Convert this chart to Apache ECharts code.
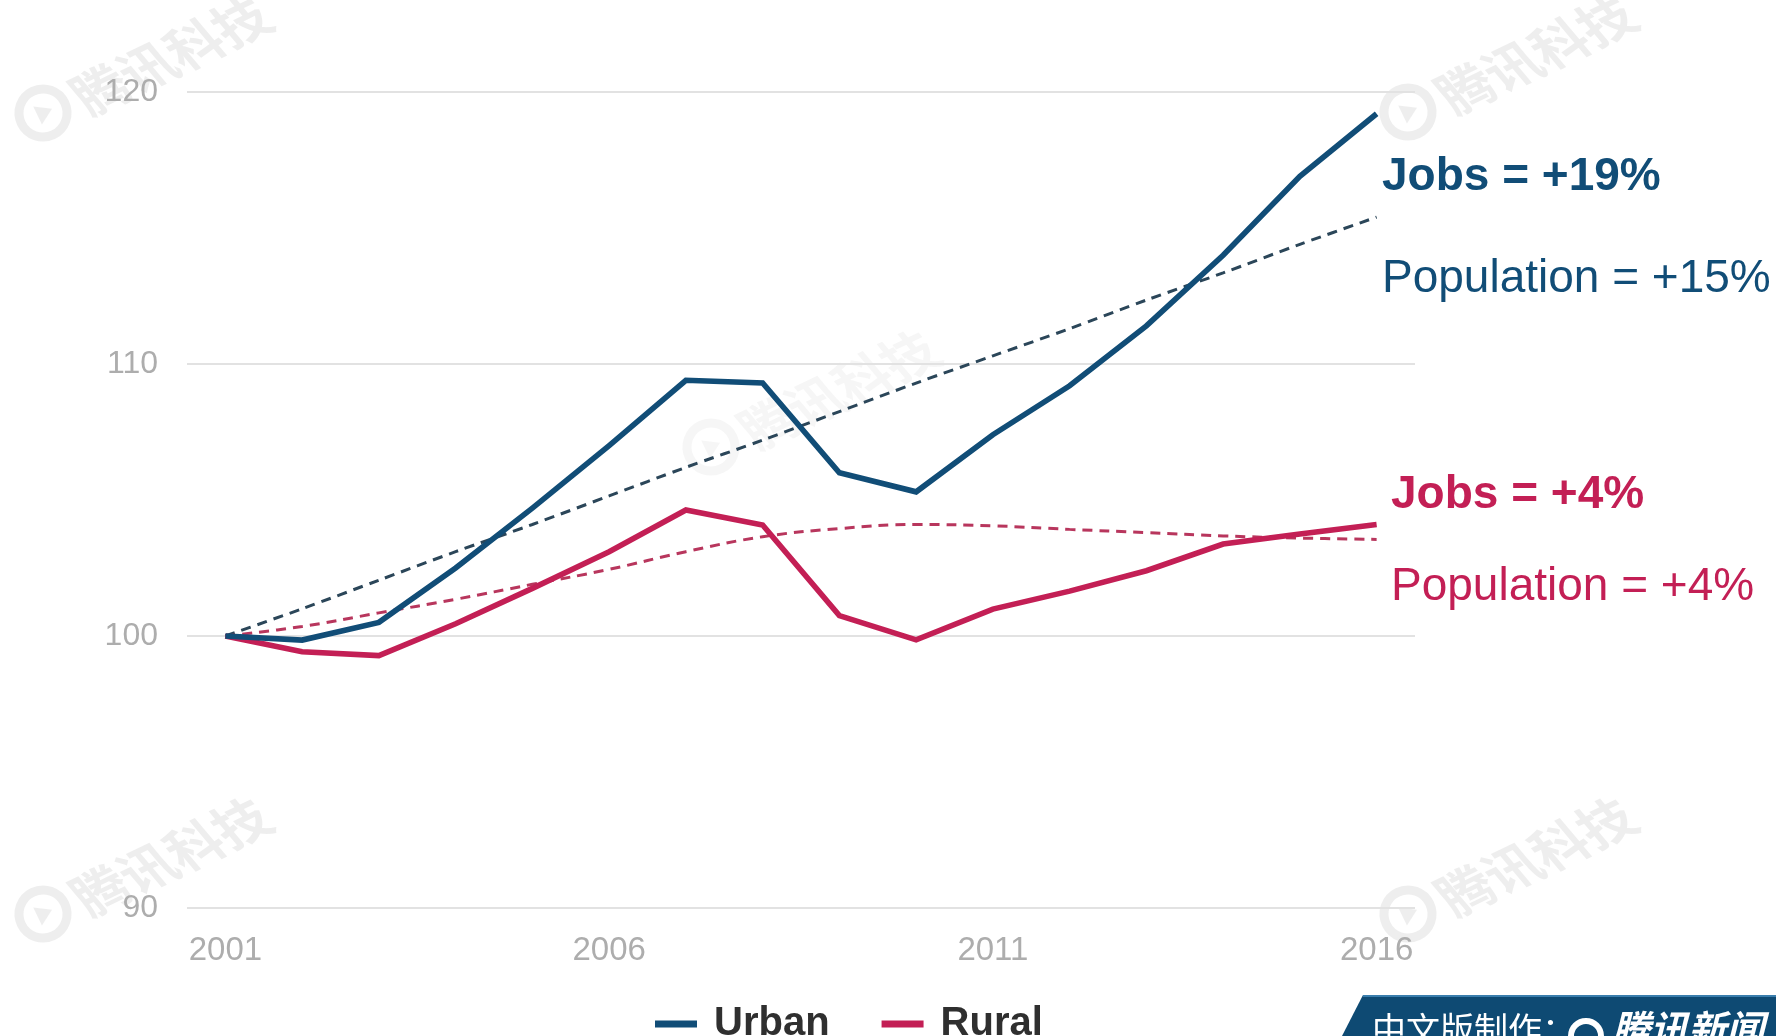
<!DOCTYPE html>
<html>
<head>
<meta charset="utf-8">
<script src="https://cdn.jsdelivr.net/npm/echarts@6/dist/echarts.min.js"></script>
<style>
  html, body { margin: 0; padding: 0; background: #ffffff; }
  #chart { width: 1776px; height: 1036px; }
</style>
</head>
<body>
<div id="chart"></div>
<script>
// ---- data ----
const years = ['2001','2002','2003','2004','2005','2006','2007','2008','2009','2010','2011','2012','2013','2014','2015','2016'];
const urbanJobs = [100, 99.85, 100.5, 102.5, 104.7, 107.0, 109.4, 109.3, 106.0, 105.3, 107.4, 109.2, 111.4, 114.0, 116.9, 119.2];
const urbanPopulation = [100, 101.0, 102.05, 103.1, 104.1, 105.15, 106.2, 107.2, 108.25, 109.3, 110.3, 111.3, 112.35, 113.35, 114.4, 115.4];
const ruralJobs = [100, 99.42, 99.28, 100.45, 101.75, 103.1, 104.63, 104.08, 100.75, 99.86, 100.99, 101.65, 102.4, 103.38, 103.75, 104.1];
const ruralPopulation = [100, 100.35, 100.85, 101.35, 101.9, 102.45, 103.1, 103.65, 103.95, 104.1, 104.05, 103.92, 103.8, 103.68, 103.6, 103.55];
const yTicks = { min: 90, max: 120, interval: 10 };
const legendNames = ['Urban', 'Rural'];
const annotations = {
  urbanJobs: 'Jobs = +19%',
  urbanPop: 'Population = +15%',
  ruralJobs: 'Jobs = +4%',
  ruralPop: 'Population = +4%'
};
const watermarkText = '腾讯科技';
const bannerText = '中文版制作：';
const bannerBrand = '腾讯新闻';

// ---- styles ----
const BLUE = '#114d77';
const RED = '#c31f55';
const BLUE_DASH = '#2b4659';
const RED_DASH = '#b8365d';
const FONT = '"Liberation Sans", Arial, Helvetica, sans-serif';

const chart = echarts.init(document.getElementById('chart'), null, { renderer: 'canvas' });

function watermark(x, y, alpha) {
  const col = 'rgba(150,150,150,' + alpha + ')';
  return {
    type: 'group',
    x: x, y: y,
    rotation: 0.45,
    z: 100,
    silent: true,
    children: [
      { type: 'circle', shape: { cx: 0, cy: 0, r: 24 }, style: { fill: 'none', stroke: col, lineWidth: 9 } },
      { type: 'polygon', shape: { points: [[-6, -10], [10, 0], [-6, 10]] }, style: { fill: col } },
      { type: 'text', x: 36, y: 4, style: { text: watermarkText, fill: col, font: 'bold 52px "Noto Sans CJK SC", sans-serif', textAlign: 'left', textVerticalAlign: 'middle' }, skewX: 0.25 }
    ]
  };
}

const option = {
  animation: false,
  backgroundColor: '#ffffff',
  grid: { left: 187, right: 361, top: 92, bottom: 128, containLabel: false },
  legend: {
    data: legendNames,
    left: 650,
    top: 999,
    icon: 'rect',
    itemWidth: 42,
    itemHeight: 7,
    itemGap: 52,
    selectedMode: false,
    textStyle: { fontFamily: FONT, fontWeight: 'bold', fontSize: 40, color: '#2f2f2f', padding: [0, 0, 0, 12] }
  },
  xAxis: {
    type: 'category',
    data: years,
    boundaryGap: true,
    axisLine: { show: false },
    axisTick: { show: false },
    axisLabel: { interval: 4, color: '#adadad', fontSize: 33, fontFamily: FONT, margin: 26 },
    splitLine: { show: false }
  },
  yAxis: {
    type: 'value',
    min: yTicks.min, max: yTicks.max, interval: yTicks.interval,
    axisLine: { show: false },
    axisTick: { show: false },
    axisLabel: { color: '#adadad', fontSize: 32, fontFamily: FONT, margin: 29 },
    splitLine: { show: true, lineStyle: { color: '#e2e2e2', width: 2 } }
  },
  series: [
    {
      name: 'Urban population', type: 'line', data: urbanPopulation, smooth: 0.3,
      showSymbol: false, symbol: 'none', silent: true, z: 2,
      lineStyle: { color: BLUE_DASH, width: 3, type: [10, 7] }
    },
    {
      name: 'Rural population', type: 'line', data: ruralPopulation, smooth: 0.4,
      showSymbol: false, symbol: 'none', silent: true, z: 2,
      lineStyle: { color: RED_DASH, width: 3, type: [10, 7] }
    },
    {
      name: 'Rural', type: 'line', data: ruralJobs, color: RED,
      showSymbol: false, symbol: 'none', silent: true, z: 3,
      lineStyle: { color: RED, width: 5.6, join: 'miter' }
    },
    {
      name: 'Urban', type: 'line', data: urbanJobs, color: BLUE,
      showSymbol: false, symbol: 'none', silent: true, z: 4,
      lineStyle: { color: BLUE, width: 5.6, join: 'miter' }
    }
  ],
  graphic: [
    { type: 'text', x: 1382, y: 177, style: { text: annotations.urbanJobs, fill: BLUE, font: 'bold 46px ' + FONT, textAlign: 'left', textVerticalAlign: 'middle' } },
    { type: 'text', x: 1382, y: 279, style: { text: annotations.urbanPop, fill: BLUE, font: '46px ' + FONT, textAlign: 'left', textVerticalAlign: 'middle' } },
    { type: 'text', x: 1391, y: 495, style: { text: annotations.ruralJobs, fill: RED, font: 'bold 46px ' + FONT, textAlign: 'left', textVerticalAlign: 'middle' } },
    { type: 'text', x: 1391, y: 587, style: { text: annotations.ruralPop, fill: RED, font: '46px ' + FONT, textAlign: 'left', textVerticalAlign: 'middle' } },
    watermark(43, 113, 0.16),
    watermark(1408, 112, 0.16),
    watermark(711, 447, 0.09),
    watermark(43, 914, 0.16),
    watermark(1408, 914, 0.16),
    {
      type: 'polygon', z: 50, silent: true,
      shape: { points: [[1363, 995], [1776, 995], [1776, 1036], [1342, 1036]] },
      style: { fill: '#0e4a73' }
    },
    { type: 'line', z: 51, silent: true, shape: { x1: 1363, y1: 996, x2: 1776, y2: 996 }, style: { stroke: '#4a90c0', lineWidth: 1.5 } },
    { type: 'text', z: 52, x: 1372, y: 1012, style: { text: bannerText, fill: '#ffffff', font: '34px "Noto Sans CJK SC", sans-serif', textAlign: 'left', textVerticalAlign: 'top' } },
    { type: 'circle', z: 52, shape: { cx: 1586, cy: 1036, r: 15 }, style: { fill: 'none', stroke: '#ffffff', lineWidth: 6 } },
    { type: 'text', z: 52, x: 1612, y: 1010, style: { text: bannerBrand, fill: '#ffffff', font: 'italic bold 38px "Noto Sans CJK SC", sans-serif', textAlign: 'left', textVerticalAlign: 'top' } }
  ]
};

chart.setOption(option);
</script>
</body>
</html>
